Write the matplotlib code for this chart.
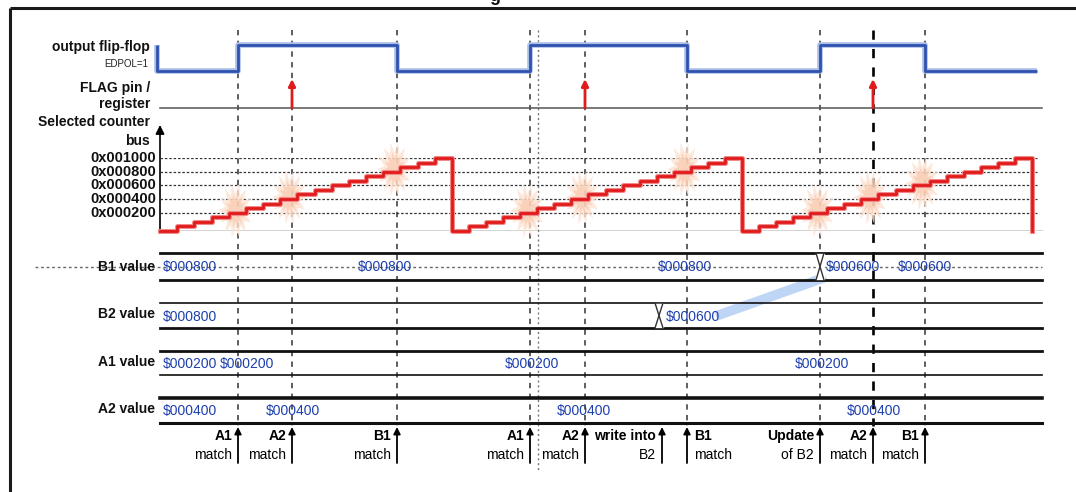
import matplotlib
matplotlib.use("Agg")
import matplotlib.pyplot as plt
import numpy as np
from matplotlib.path import Path
from matplotlib.markers import MarkerStyle

plt.rcParams['font.family'] = ['Liberation Sans Narrow', 'Liberation Sans', 'DejaVu Sans']

W, H = 1076, 492

# ---------------- data ----------------
event_times = [238, 292, 397, 530, 585, 687, 820, 873, 925]
event_line1 = ["A1", "A2", "B1", "A1", "A2", "B1", "Update", "A2", "B1"]
event_line2 = ["match", "match", "match", "match", "match", "match", "of B2", "match", "match"]
write_time = 662
write_line1, write_line2 = "write into", "B2"
extra_marker_time = 538

ff_start_level = 1
ff_times = [157, 238, 397, 530, 687, 820, 925]
ff_levels = [0, 1, 0, 1, 0, 1, 0]
ff_end = 1037

flag_times = [292, 585, 873]

ramp_starts = [160, 452, 742]
ramp_ends = [452, 742, 1032]
counter_steps = [0, 1, 2, 3, 4, 5, 6, 7, 8, 9, 10, 11, 12, 13, 14, 15, 16]  # units of 0x100
grid_levels = [4, 7, 10, 13, 16]
grid_labels = ["0x000200", "0x000400", "0x000600", "0x000800", "0x001000"]

b1_texts = ["$000800", "$000800", "$000800", "$000600", "$000600"]
b2_texts = ["$000800", "$000600"]
a1_texts = ["$000200", "$000200", "$000200", "$000200"]
a2_texts = ["$000400", "$000400", "$000400", "$000400"]
b1_switch = [820]
b2_switch = [659]

# ---------------- layout ----------------
b1_text_x = [163, 358, 658, 826, 898]
b2_text_x = [163, 666]
a1_text_x = [163, 220, 505, 795]
a2_text_x = [163, 266, 557, 847]
label_side = ['l', 'l', 'l', 'l', 'l', 'r', 'l', 'l', 'l']

fig = plt.figure(figsize=(W / 100, H / 100), dpi=100)
ax = fig.add_axes([0, 0, 1, 1])
ax.set_xlim(0, W)
ax.set_ylim(H, 0)
ax.axis('off')

BLUE_TXT = '#1d3fae'
RED = '#e01b1b'
lab_kw = dict(fontsize=10, fontweight='bold', color='#111111', ha='right', va='center')

# frame
ax.plot([10, 10], [8, H], color='#1a1a1a', lw=2.2, solid_capstyle='butt')
ax.plot([10, W], [8, 8], color='#1a1a1a', lw=2.2, solid_capstyle='butt')
ax.text(489, 1, "g", fontsize=13, fontweight='bold', ha='left', va='baseline', color='#111')

# vertical dashed event lines
for t in event_times:
    lw = 1.9 if t == 873 else 1.1
    col = '#000000' if t == 873 else '#333333'
    ax.plot([t, t], [30, 426], color=col, lw=lw, ls=(0, (3.5, 3.5)), zorder=1)
ax.plot([extra_marker_time] * 2, [30, 472], color='#777777', lw=1.0, ls=(0, (1.5, 2)), zorder=1)

# ---------- output flip-flop ----------
ffax = fig.add_axes([0, (H - 71) / H, 1, 26 / H])
ffax.set_xlim(0, W); ffax.set_ylim(0, 1); ffax.axis('off'); ffax.patch.set_alpha(0)
xs = [ff_times[0]] + ff_times + [ff_end]
ys = [ff_start_level] + ff_levels + [ff_levels[-1]]
ffax.step(xs, ys, where='post', color='#a9bde6', lw=4.0, clip_on=False, solid_capstyle='butt')
ffax.step(xs, ys, where='post', color='#2f52b0', lw=2.0, clip_on=False, solid_capstyle='butt')

ax.text(150, 47, "output flip-flop", **lab_kw)
ax.text(148, 64, "EDPOL=1", fontsize=7, color='#222', ha='right', va='center')

# ---------- FLAG ----------
ax.text(150, 88, "FLAG pin /", **lab_kw)
ax.text(150, 104, "register", **lab_kw)
ax.plot([160, 1042], [108, 108], color='#555555', lw=1.1)
for t in flag_times:
    ax.annotate('', xy=(t, 79), xytext=(t, 108),
                arrowprops=dict(arrowstyle='-|>', color=RED, lw=2.0, mutation_scale=10,
                                shrinkA=0, shrinkB=0))

# ---------- counter ----------
ax.text(150, 122, "Selected counter", **lab_kw)
ax.text(150, 141, "bus", **lab_kw)
cax = fig.add_axes([0, (H - 231) / H, 1, 73 / H])
cax.set_xlim(0, W); cax.set_ylim(0, 16); cax.axis('off'); cax.patch.set_alpha(0)
for lv, lb in zip(grid_levels, grid_labels):
    cax.plot([160, 1037], [lv, lv], color='#333333', lw=0.9, ls=(0, (2, 1.5)), zorder=1)
    ax.text(156, 231 - (231 - 158) * lv / 16, lb, fontsize=10.5, fontweight='bold',
            color='#111', ha='right', va='center')
cax.plot([160, 1042], [0, 0], color='#222222', lw=1.0, zorder=1)
ax.annotate('', xy=(160, 125), xytext=(160, 231),
            arrowprops=dict(arrowstyle='-|>', color='black', lw=1.2, mutation_scale=13,
                            shrinkA=0, shrinkB=0))

# glow markers
n = 14
ang = np.pi * np.arange(2 * n) / n
rad = np.where(np.arange(2 * n) % 2 == 0, 1.0, 0.6)
verts = np.column_stack([0.62 * rad * np.cos(ang), rad * np.sin(ang)])
verts = np.vstack([verts, verts[:1]])
star = Path(verts, closed=True)


def level_at(t):
    for s, e in zip(ramp_starts, ramp_ends):
        if s <= t < e:
            w = (e - s) / len(counter_steps)
            return counter_steps[int((t - s) // w)]
    return 0


gx = [t - 3 for t in event_times]
gy = [level_at(t) + 0.5 for t in event_times]
cax.scatter(gx, gy, s=1500, marker=MarkerStyle(star), color='#fde3d2', alpha=0.8,
            linewidths=0, zorder=2, clip_on=False)
cax.scatter(gx, gy, s=600, marker=MarkerStyle(star), color='#f8c4a6', alpha=0.6,
            linewidths=0, zorder=2, clip_on=False)

sx, sy = [], []
for s, e in zip(ramp_starts, ramp_ends):
    edges = np.linspace(s, e, len(counter_steps) + 1)
    sx += list(edges)
    sy += counter_steps + [counter_steps[-1]]
sx.append(ramp_ends[-1]); sy.append(0)
cax.step(sx, sy, where='post', color='#f28a8a', lw=3.6, zorder=3, clip_on=False)
cax.step(sx, sy, where='post', color=RED, lw=2.0, zorder=4, clip_on=False)

# ---------- bus rows ----------
def bus_row(y0, y1, texts, text_x, switches, lw_top, lw_bot):
    ym = (y0 + y1) / 2
    ax.plot([160, 1042], [y0, y0], color='#111', lw=lw_top, zorder=2)
    ax.plot([160, 1042], [y1, y1], color='#111', lw=lw_bot, zorder=2)
    for sw in switches:
        ax.fill_between([sw - 4, sw + 4], [y0 + 1, y0 + 1], [y1 - 1, y1 - 1], color='white', zorder=3)
        ax.plot([sw - 4, sw, sw + 4], [y0, ym, y0], color='#333', lw=1.0, zorder=4)
        ax.plot([sw - 4, sw, sw + 4], [y1, ym, y1], color='#333', lw=1.0, zorder=4)
    for tx, xx in zip(texts, text_x):
        ax.text(xx, ym + 1, tx, fontsize=10, color=BLUE_TXT, ha='left', va='center', zorder=5)


ax.plot([35, 1042], [267, 267], color='#666', lw=1.0, ls=(0, (2, 2)), zorder=1)
bus_row(253, 280, b1_texts, b1_text_x, b1_switch, 2.0, 2.0)
bus_row(303, 328, b2_texts, b2_text_x, b2_switch, 1.2, 2.0)
bus_row(351, 375, a1_texts, a1_text_x, [], 2.0, 1.2)
bus_row(398, 423, a2_texts, a2_text_x, [], 2.6, 2.2)

ax.text(155, 267, "B1 value", **lab_kw)
ax.text(155, 314, "B2 value", **lab_kw)
ax.text(155, 362, "A1 value", **lab_kw)
ax.text(155, 409, "A2 value", **lab_kw)

# transfer highlight B2 -> B1
ax.plot([716, 826], [316, 277], color='#a9c8f2', lw=7, alpha=0.75, solid_capstyle='butt', zorder=1)

# ---------- bottom event arrows ----------
def event_arrow(t, l1, l2, side):
    ax.annotate('', xy=(t, 427), xytext=(t, 463),
                arrowprops=dict(arrowstyle='-|>', color='black', lw=1.3, mutation_scale=10,
                                shrinkA=0, shrinkB=0), zorder=5)
    if side == 'l':
        ax.text(t - 6, 436, l1, fontsize=10, fontweight='bold', ha='right', va='center')
        ax.text(t - 6, 455, l2, fontsize=10, ha='right', va='center')
    else:
        ax.text(t + 7, 436, l1, fontsize=10, fontweight='bold', ha='left', va='center')
        ax.text(t + 7, 455, l2, fontsize=10, ha='left', va='center')


for t, l1, l2, sd in zip(event_times, event_line1, event_line2, label_side):
    event_arrow(t, l1, l2, sd)
event_arrow(write_time, write_line1, write_line2, 'l')

fig.savefig("out.png", dpi=100)
